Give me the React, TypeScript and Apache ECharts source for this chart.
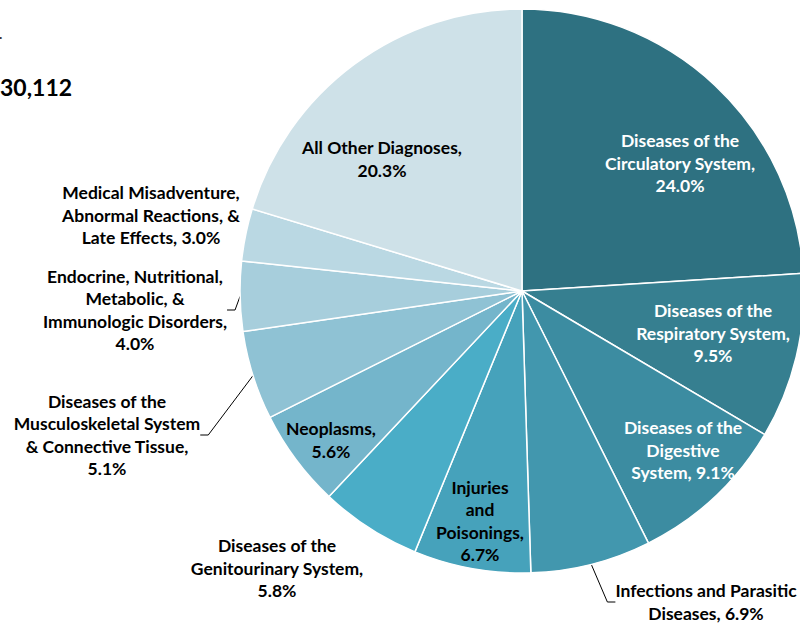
import React, { useEffect, useRef } from "react";
import * as echarts from "echarts";

const categories = [
  "Diseases of the Circulatory System",
  "Diseases of the Respiratory System",
  "Diseases of the Digestive System",
  "Infections and Parasitic Diseases",
  "Injuries and Poisonings",
  "Diseases of the Genitourinary System",
  "Neoplasms",
  "Diseases of the Musculoskeletal System & Connective Tissue",
  "Endocrine, Nutritional, Metabolic, & Immunologic Disorders",
  "Medical Misadventure, Abnormal Reactions, & Late Effects",
  "All Other Diagnoses",
];

const values = [24.0, 9.5, 9.1, 6.9, 6.7, 5.8, 5.6, 5.1, 4.0, 3.0, 20.3];

const labelTexts = [
  "Diseases of the\nCirculatory System,\n{v}",
  "Diseases of the\nRespiratory System,\n{v}",
  "Diseases of the\nDigestive\nSystem, {v}",
  "Infections and Parasitic\nDiseases, {v}",
  "Injuries\nand\nPoisonings,\n{v}",
  "Diseases of the\nGenitourinary System,\n{v}",
  "Neoplasms,\n{v}",
  "Diseases of the\nMusculoskeletal System\n& Connective Tissue,\n{v}",
  "Endocrine, Nutritional,\nMetabolic, &\nImmunologic Disorders,\n{v}",
  "Medical Misadventure,\nAbnormal Reactions, &\nLate Effects, {v}",
  "All Other Diagnoses,\n{v}",
];

const colors = [
  "#2E7181",
  "#367F90",
  "#3C8CA1",
  "#4297AE",
  "#46A2BB",
  "#4AADC7",
  "#74B5CB",
  "#8FC2D4",
  "#A7CEDC",
  "#BAD8E3",
  "#CEE1E8",
];

const textColors = ["#fff", "#fff", "#fff", "#000", "#000", "#000", "#000", "#000", "#000", "#000", "#000"];

// label anchor positions (center of text block)
const labelPos: [number, number][] = [
  [680, 163],
  [713, 333],
  [683, 450],
  [706, 602],
  [480, 521],
  [277, 568],
  [331, 440],
  [107, 435],
  [135, 310],
  [151, 215],
  [382, 159],
];

const showLine = [false, false, false, true, false, false, false, true, true, false, false];

export default function App() {
  const ref = useRef<HTMLDivElement>(null);
  useEffect(() => {
    if (!ref.current) return;
    const chart = echarts.init(ref.current, null, { renderer: "svg" });
    const font = "Lato";
    chart.setOption({
      animation: false,
      backgroundColor: "#fff",
      graphic: [
        {
          type: "text",
          left: 0,
          top: 75,
          style: { text: "30,112", font: `bold 23px ${font}`, fill: "#000" },
        },
        {
          type: "text",
          left: -1,
          top: 26,
          style: { text: ".", font: `bold 14px ${font}`, fill: "#333" },
        },
      ],
      series: [
        {
          type: "pie",
          center: [522, 291],
          radius: 282,
          startAngle: 90,
          clockwise: true,
          avoidLabelOverlap: false,
          itemStyle: { borderColor: "#fff", borderWidth: 1.5 },
          label: {
            show: true,
            position: "outside",
            fontFamily: font,
            fontWeight: "bold",
            fontSize: 17.5,
            lineHeight: 22.5,
            align: "center",
            formatter: (p: any) =>
              labelTexts[p.dataIndex].replace("{v}", values[p.dataIndex].toFixed(1) + "%"),
          },
          labelLine: { show: true, length: 10, length2: 8, lineStyle: { color: "#000", width: 1 } },
          labelLayout: (p: any) => ({
            x: labelPos[p.dataIndex][0],
            y: labelPos[p.dataIndex][1],
            align: "center",
            verticalAlign: "middle",
          }),
          data: categories.map((c, i) => ({
            name: c,
            value: values[i],
            itemStyle: { color: colors[i] },
            label: { color: textColors[i] },
            labelLine: { show: showLine[i] },
          })),
        },
      ],
    });
    return () => chart.dispose();
  }, []);
  return (
    <div
      ref={ref}
      style={{ position: "fixed", left: 0, top: 0, width: 800, height: 626 }}
    />
  );
}
